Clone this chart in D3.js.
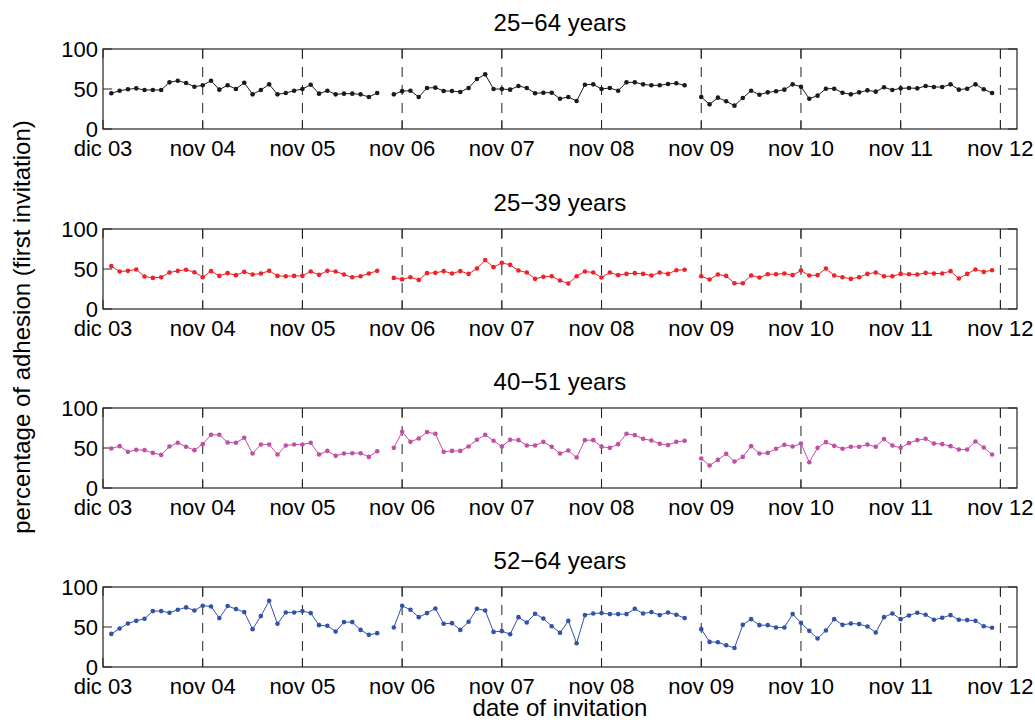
<!DOCTYPE html>
<html><head><meta charset="utf-8">
<script src="https://cdn.jsdelivr.net/npm/d3@7"></script>
<style>body{margin:0;background:#fff} svg{display:block} text{font-family:"Liberation Sans",Arial,Helvetica,sans-serif;fill:#000}</style>
</head><body><svg id="c" width="1035" height="722"></svg>
<script>
// ---- data ----
const tickMonths = [0, 12, 24, 36, 48, 60, 72, 84, 96, 108];
const tickLabels = ["dic 03", "nov 04", "nov 05", "nov 06", "nov 07", "nov 08", "nov 09", "nov 10", "nov 11", "nov 12"];
const yTicks = [0, 50, 100];
const segmentStarts = [1, 35, 72];   // month index of first point of each segment
const titles = ["25\u221264 years", "25\u221239 years", "40\u221251 years", "52\u221264 years"];
const colors = ["#1a1a1a", "#ee2228", "#c24fa5", "#3152a8"];

const age25_64 = [
  [44.6,47.9,49.6,50.8,48.8,48.8,48.8,58.3,60.4,57.5,52.9,54.6,60.4,49.2,54.6,50,57.9,43.3,48.8,55.8,43.3,45,47.9,50,55.4,44.2,47.9,43.3,44.2,44.2,43.3,40,45],
  [43.3,47.3,47.9,40,51.3,51.7,47.5,47.5,46.3,51.3,62.5,68.3,50,50,49.2,53.8,51.3,44.6,45.4,45.4,37.9,40,35,55.4,55.8,50,51.3,47.9,58.3,58.3,55.8,54.6,54.6,56.3,57.1,54.6],
  [40,30.8,39.2,34.6,29.2,38.8,47.9,42.9,45.8,47.1,49.2,55.8,52.9,37.9,41.7,50.4,50.4,45.4,43.3,45.8,48.3,46.7,52.1,48.8,50.8,51.3,50.8,53.8,52.5,52.5,55.8,49.2,50.4,55.8,49.6,45]
];
const age25_39 = [
  [53.6,46.9,47.7,49.4,40.6,38.9,39.7,45.6,47.7,49,46,39.7,47.3,41.4,44.8,42.3,46.4,43.1,44.4,47.7,41.4,41,41.4,41.4,46.9,42.7,47.7,46.9,43.1,39.7,41,44.4,47.7],
  [38.9,37,39.7,36.4,44.8,45.2,47.3,44.4,47.3,43.9,50.6,61.1,52.3,57.7,55.2,48.1,45.6,37.7,40.2,41,35.6,31.8,41,46.9,45.6,39.3,45.6,42.3,43.9,44.8,43.9,41.8,45.6,43.9,48.5,49],
  [41,36.8,43.1,41.4,32.2,32.2,41.8,39.3,43.5,43.5,44.4,42.3,48.1,41.8,42.3,50.6,41.8,39.7,37.7,39.7,43.9,45.6,41,41,43.9,43.5,43.1,45.2,44.4,44.4,47.3,38.1,43.9,49.4,46.4,48.5]
];
const age40_51 = [
  [49.4,52.3,45.2,47.7,47.3,43.9,41.4,51.9,56.5,51.5,47.3,54.8,66.5,66.5,56.9,56.5,62.8,43.1,54.4,54.4,41.8,53.1,54.4,54.4,56.5,41.8,46.4,40.2,43.1,43.5,43.5,38.9,46],
  [50.2,70.3,57.7,61.9,69.9,67.8,45.2,46.4,46.4,51.9,60.3,66.5,59,51.9,60.3,59.8,53.1,53.1,57.7,51.5,43.1,46.9,38.1,59.8,59.8,51.5,50.2,54.8,67.8,66.1,61.5,59.4,55.2,53.6,57.7,59],
  [36.8,28.2,35.1,42.7,33.1,38.9,52.3,43.1,43.9,49,54,51.9,55.6,32.2,50.2,57.3,52.7,49,51.5,51.5,54.4,51.5,61.1,53.1,50.2,56.1,59.8,61.5,55.6,54.8,52.3,48.1,48.1,58.2,50.6,41.8]
];
const age52_64 = [
  [41.4,48.1,54.4,57.7,60.3,69.9,69.9,67.8,71.5,74.5,70.7,76.6,75.7,61.1,76.2,72.4,68.6,47.3,63.6,82.8,54,68.2,68.2,69.9,67.4,52.3,51.5,44.4,56.1,56.1,46.4,40.2,42.3],
  [49.4,76.6,71.5,62.3,67.4,73.2,54,54.8,46.4,56.5,72.8,70.7,43.9,44.8,41,62.3,55.6,66.5,60.7,51,42.7,57.7,29.7,64.9,66.9,67.4,66.1,66.1,66.1,72.8,66.9,68.6,64.9,68.2,65.3,61.1],
  [47.3,31.4,31,27.2,23.8,52.7,59.8,52.3,52.3,49.4,49.4,66.1,55.2,45.2,35.6,45.6,59.8,52.7,54.4,53.6,50.6,43.1,62.3,66.9,59.8,64.4,67.8,65.3,59,61.5,64.9,59,58.6,57.7,51,49]
];
const panelSeries = [age25_64, age25_39, age40_51, age52_64];

// ---- layout ----
const left = 103, right = 1017;
const panelTops = [49, 229, 408, 587];
const panelH = 80;
const tickLen = 9;
const svg = d3.select("#c");

const x = d3.scaleLinear().domain([0, 110]).range([left, right]);

panelSeries.forEach((segs, pi) => {
  const top = panelTops[pi], bottom = top + panelH;
  const y = d3.scaleLinear().domain([0, 100]).range([bottom, top]);
  const g = svg.append("g");
  const color = colors[pi];

  // dashed vertical lines
  g.selectAll("line.vd").data(tickMonths.filter(m => m > 0)).join("line")
    .attr("x1", d => x(d)).attr("x2", d => x(d))
    .attr("y1", top).attr("y2", bottom)
    .attr("stroke", "#222").attr("stroke-width", 1)
    .attr("stroke-dasharray", "10,8");

  // ticks (inward) bottom / top
  tickMonths.forEach(m => {
    g.append("line").attr("x1", x(m)).attr("x2", x(m)).attr("y1", bottom).attr("y2", bottom - tickLen).attr("stroke", "#222");
    g.append("line").attr("x1", x(m)).attr("x2", x(m)).attr("y1", top).attr("y2", top + tickLen).attr("stroke", "#222");
  });
  yTicks.forEach(v => {
    g.append("line").attr("x1", left).attr("x2", left + tickLen).attr("y1", y(v)).attr("y2", y(v)).attr("stroke", "#222");
    g.append("line").attr("x1", right).attr("x2", right - tickLen).attr("y1", y(v)).attr("y2", y(v)).attr("stroke", "#222");
  });

  // frame
  g.append("rect").attr("x", left).attr("y", top).attr("width", right - left).attr("height", panelH)
    .attr("fill", "none").attr("stroke", "#222").attr("stroke-width", 1.2);

  // x tick labels
  g.selectAll("text.xt").data(tickMonths).join("text")
    .attr("x", d => x(d)).attr("y", bottom + 27)
    .attr("text-anchor", "middle").attr("font-size", 22)
    .text((d, i) => tickLabels[i]);

  // y tick labels
  g.selectAll("text.yt").data(yTicks).join("text")
    .attr("x", left - 5).attr("y", d => y(d) + 8)
    .attr("text-anchor", "end").attr("font-size", 22)
    .text(d => d);

  // title
  g.append("text").attr("x", (left + right) / 2).attr("y", top - 18)
    .attr("text-anchor", "middle").attr("font-size", 24).text(titles[pi]);

  // series
  const line = d3.line().x(d => x(d.m)).y(d => y(d.v));
  segs.forEach((vals, si) => {
    const pts = vals.map((v, k) => ({ m: segmentStarts[si] + k, v }));
    g.append("path").datum(pts).attr("d", line)
      .attr("fill", "none").attr("stroke", color).attr("stroke-width", 1);
    g.selectAll(null).data(pts).join("circle")
      .attr("cx", d => x(d.m)).attr("cy", d => y(d.v)).attr("r", 2.3)
      .attr("fill", color);
  });
});

// axis labels
svg.append("text").attr("transform", `translate(30,327) rotate(-90)`)
  .attr("text-anchor", "middle").attr("font-size", 24).text("percentage of adhesion (first invitation)");
svg.append("text").attr("x", 560).attr("y", 716)
  .attr("text-anchor", "middle").attr("font-size", 24).text("date of invitation");
</script></body></html>
